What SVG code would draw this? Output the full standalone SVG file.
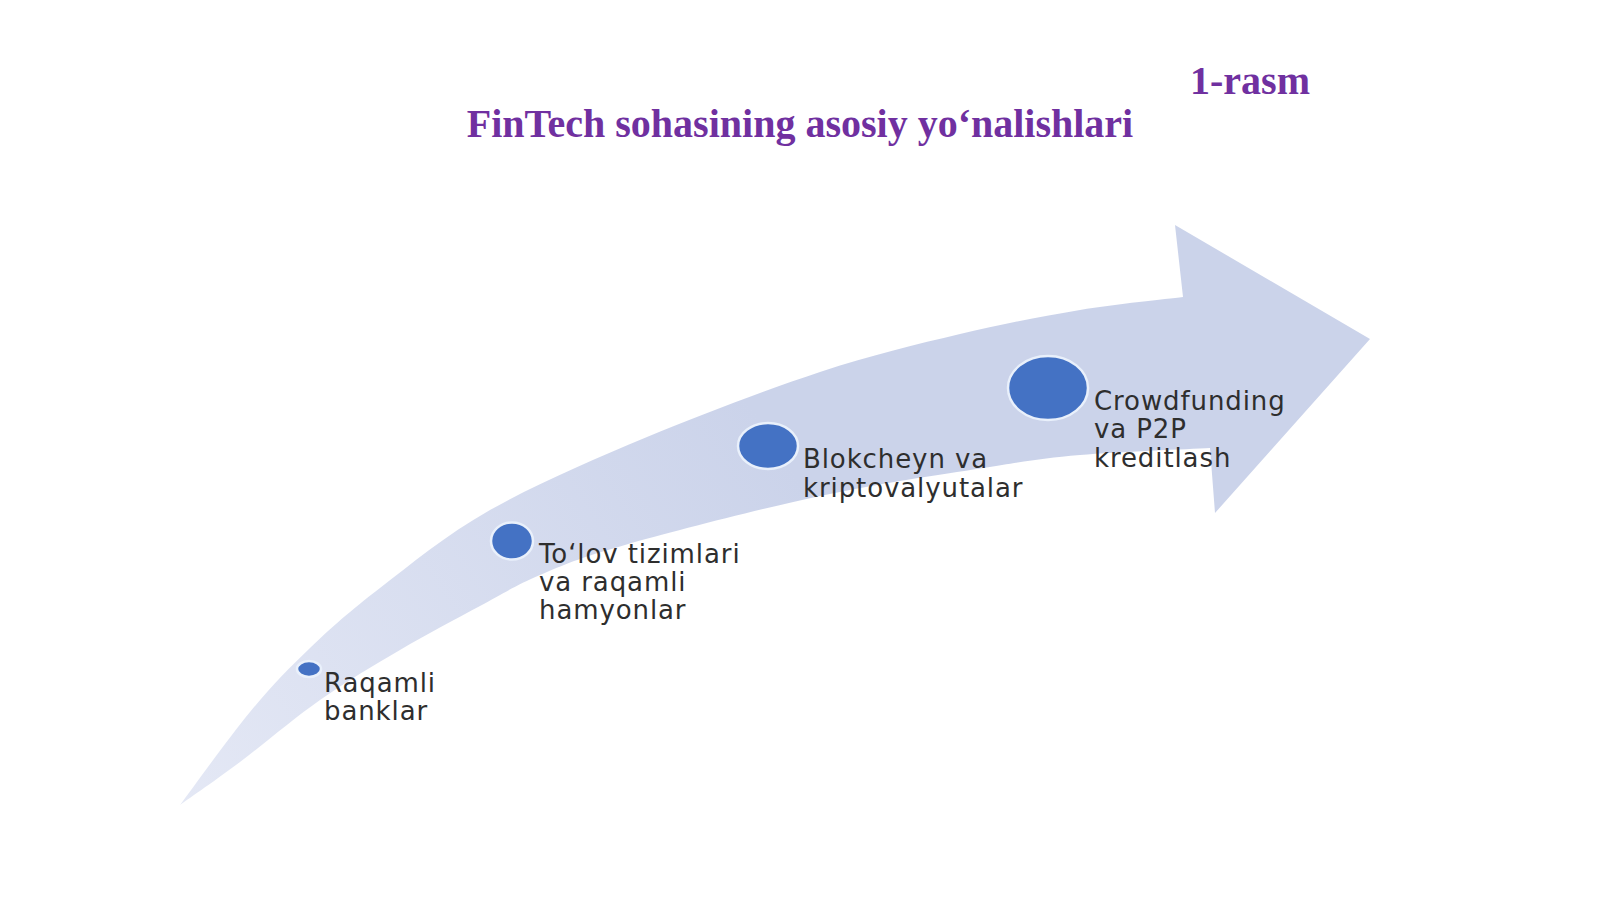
<svg xmlns="http://www.w3.org/2000/svg" width="1600" height="899" viewBox="0 0 1600 899">
  <style>
    .title { font-family: "Liberation Serif", "Times New Roman", serif; font-weight: bold; font-size: 40px; fill: #7030A0; }
    .lbl { font-family: "DejaVu Sans", "Liberation Sans", sans-serif; font-size: 26px; letter-spacing: 0.9px; fill: #2E2E2E; }
    .dot { fill: #4472C4; stroke: #E9F0FB; stroke-width: 2.5; }
  </style>
  <defs>
    <linearGradient id="bandFill" gradientUnits="userSpaceOnUse" x1="181" y1="806" x2="760" y2="420">
      <stop offset="0" stop-color="#E4E8F5"/>
      <stop offset="1" stop-color="#CBD3EA"/>
    </linearGradient>
  </defs>
  <rect x="0" y="0" width="1600" height="899" fill="#FFFFFF"/>

  <text class="title" x="800" y="137" text-anchor="middle">FinTech sohasining asosiy yo‘nalishlari</text>
  <text class="title" x="1190" y="94">1-rasm</text>

  <g id="connectors">
    <path id="arrow" fill="url(#bandFill)" d="M 180,805
      C 191.7,789.5 228.3,738.2 250,712
      C 271.7,685.8 288.3,668.7 310,648
      C 331.7,627.3 350,611 380,588
      C 410,565 445.5,535.2 490,510
      C 534.5,484.8 592,460 647,437
      C 702,414.3 767.8,389.2 820,372
      C 872.2,354.8 916.7,344.3 960,334
      C 1003.3,323.7 1042.8,316.2 1080,310
      C 1117.2,303.8 1165.8,299.2 1183,297
      L 1175,225 L 1370,339 L 1215,513 L 1210,448
      C 1188.3,449.2 1117.8,451.7 1080,455
      C 1042.2,458.3 1026.3,461.2 983,468
      C 939.7,474.8 879.7,483.2 820,496
      C 760.3,508.8 671.7,531.8 625,545
      C 578.3,558.2 564.2,564.8 540,575
      C 515.8,585.2 503.3,593.5 480,606
      C 456.7,618.5 426.7,634.3 400,650
      C 373.3,665.7 346.7,681.3 320,700
      C 293.3,718.7 263.3,744.5 240,762
      C 216.7,779.5 190,797.8 180,805 Z"/>
  </g>

  <g id="node-raqamli">
    <ellipse class="dot" cx="309" cy="669" rx="12" ry="8"/>
    <text class="lbl" x="324" y="692">Raqamli</text>
    <text class="lbl" x="324" y="720">banklar</text>
  </g>
  <g id="node-tolov">
    <ellipse class="dot" cx="512" cy="541" rx="21" ry="18.5"/>
    <text class="lbl" x="539" y="563">To‘lov tizimlari</text>
    <text class="lbl" x="539" y="591">va raqamli</text>
    <text class="lbl" x="539" y="619">hamyonlar</text>
  </g>
  <g id="node-blokcheyn">
    <ellipse class="dot" cx="768" cy="446" rx="30" ry="23"/>
    <text class="lbl" x="803" y="468">Blokcheyn va</text>
    <text class="lbl" x="803" y="497">kriptovalyutalar</text>
  </g>
  <g id="node-crowdfunding">
    <ellipse class="dot" cx="1048" cy="388" rx="40" ry="32"/>
    <text class="lbl" x="1094" y="410">Crowdfunding</text>
    <text class="lbl" x="1094" y="438">va P2P</text>
    <text class="lbl" x="1094" y="467">kreditlash</text>
  </g>
</svg>
